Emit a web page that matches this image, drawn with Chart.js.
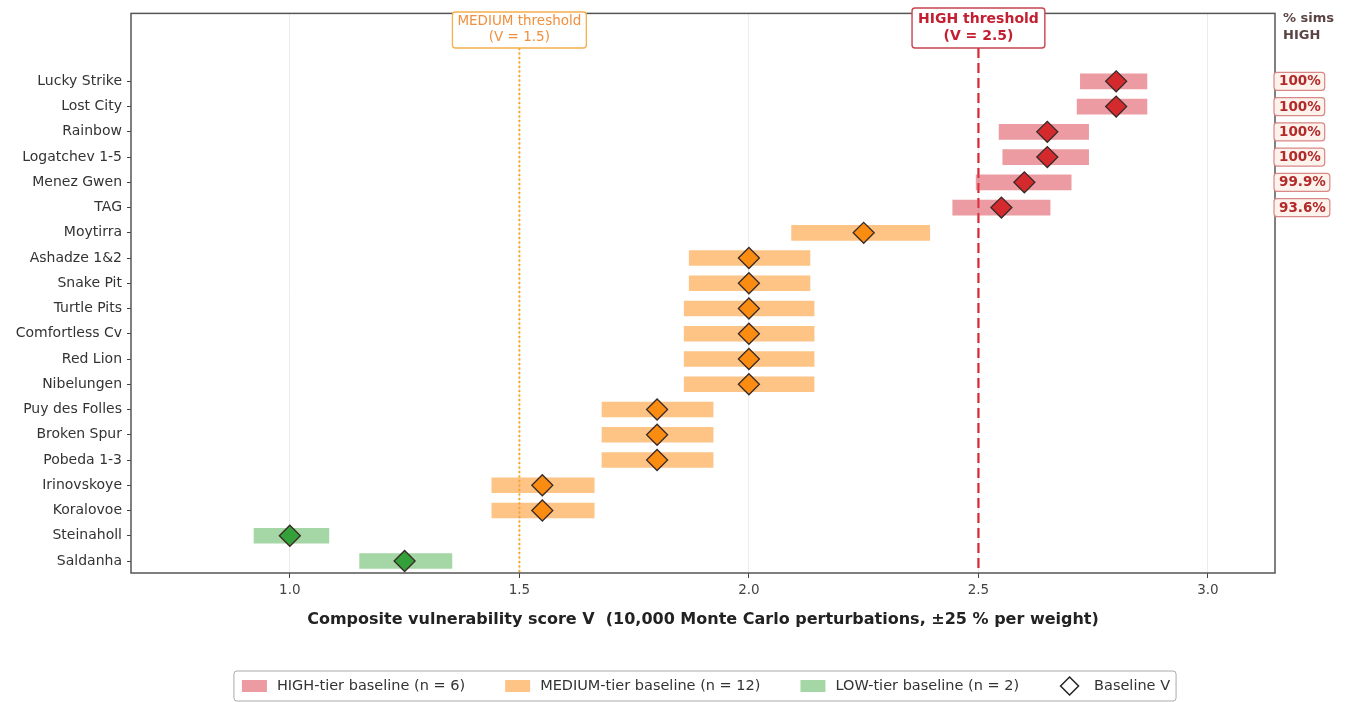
<!DOCTYPE html>
<html><head><meta charset="utf-8">
<script src="https://cdn.jsdelivr.net/npm/chart.js@4"></script>
<style>html,body{margin:0;padding:0;background:#fff}#wrap{width:1351px;height:702px}</style>
</head><body><div id="wrap"><canvas id="c" width="1351" height="702"></canvas></div>
<script>
const sites = ['Lucky Strike','Lost City','Rainbow','Logatchev 1-5','Menez Gwen','TAG','Moytirra','Ashadze 1&2','Snake Pit','Turtle Pits','Comfortless Cv','Red Lion','Nibelungen','Puy des Folles','Broken Spur','Pobeda 1-3','Irinovskoye','Koralovoe','Steinaholl','Saldanha'];
const tiers = ['HIGH','HIGH','HIGH','HIGH','HIGH','HIGH','MEDIUM','MEDIUM','MEDIUM','MEDIUM','MEDIUM','MEDIUM','MEDIUM','MEDIUM','MEDIUM','MEDIUM','MEDIUM','MEDIUM','LOW','LOW'];
const baselineV = [2.80,2.80,2.65,2.65,2.60,2.55,2.25,2.00,2.00,2.00,2.00,2.00,2.00,1.80,1.80,1.80,1.55,1.55,1.00,1.25];
const rangeLow  = [2.722,2.715,2.545,2.553,2.495,2.444,2.093,1.870,1.870,1.859,1.859,1.859,1.859,1.680,1.680,1.680,1.440,1.440,0.922,1.152];
const rangeHigh = [2.867,2.867,2.740,2.740,2.702,2.656,2.394,2.133,2.133,2.142,2.142,2.142,2.142,1.922,1.922,1.922,1.663,1.663,1.085,1.353];
const pctHigh = ['100%','100%','100%','100%','99.9%','93.6%'];
const xTicks = [1.0,1.5,2.0,2.5,3.0];
const mediumThreshold = 1.5;
const highThreshold = 2.5;
const tierNames = ['HIGH','MEDIUM','LOW'];
const legendLabels = ['HIGH-tier baseline (n = 6)','MEDIUM-tier baseline (n = 12)','LOW-tier baseline (n = 2)','Baseline V'];

const barColors = {HIGH:'rgba(218,72,84,0.55)', MEDIUM:'rgba(251,160,60,0.62)', LOW:'rgba(100,185,100,0.58)'};
const dotColors = {HIGH:'#d42a2e', MEDIUM:'#fb8c12', LOW:'#34a03a'};
const FONT = "'DejaVu Sans', sans-serif";

const barDatasets = tierNames.map(t => ({
  type:'bar', indexAxis:'y', label:t, order:2, grouped:false, barThickness:15,
  backgroundColor: barColors[t], borderWidth:0,
  data: sites.map((s,i)=>({y:i, x:[rangeLow[i], rangeHigh[i]]})).filter((d,i)=>tiers[i]===t)
}));
const diamondDataset = {
  type:'scatter', label:'Baseline V', order:1, pointStyle:'rectRot', pointRadius:10.5, pointHoverRadius:10.5,
  pointBackgroundColor: tiers.map(t=>dotColors[t]), pointBorderColor:'#3a2a2a', pointBorderWidth:1.3,
  data: sites.map((s,i)=>({x:baselineV[i], y:i}))
};

function rrect(ctx,x,y,w,h,r){ctx.beginPath();ctx.moveTo(x+r,y);ctx.lineTo(x+w-r,y);ctx.quadraticCurveTo(x+w,y,x+w,y+r);ctx.lineTo(x+w,y+h-r);ctx.quadraticCurveTo(x+w,y+h,x+w-r,y+h);ctx.lineTo(x+r,y+h);ctx.quadraticCurveTo(x,y+h,x,y+h-r);ctx.lineTo(x,y+r);ctx.quadraticCurveTo(x,y,x+r,y);ctx.closePath();}

const decor = {
  id:'decor',
  beforeDatasetsDraw(chart){
    const {ctx, chartArea:a, scales:{x}} = chart;
    ctx.save();
    const xm = x.getPixelForValue(mediumThreshold), xh = x.getPixelForValue(highThreshold);
    ctx.strokeStyle='#f5a623'; ctx.lineWidth=2; ctx.setLineDash([2,2.5]);
    ctx.beginPath(); ctx.moveTo(xm,48); ctx.lineTo(xm,a.bottom); ctx.stroke();
    ctx.strokeStyle='#d62733'; ctx.lineWidth=2.2; ctx.setLineDash([10,5]);
    ctx.beginPath(); ctx.moveTo(xh,48); ctx.lineTo(xh,a.bottom); ctx.stroke();
    ctx.restore();
  },
  afterDraw(chart){
    const {ctx, chartArea:a, scales:{x,y}} = chart;
    ctx.save();
    ctx.strokeStyle='#555'; ctx.lineWidth=1.5; ctx.setLineDash([]);
    ctx.strokeRect(a.left, a.top, a.right-a.left, a.bottom-a.top);
    const xm = x.getPixelForValue(mediumThreshold), xh = x.getPixelForValue(highThreshold);
    ctx.textAlign='center'; ctx.textBaseline='middle';
    ctx.font = "13.5px "+FONT;
    let w = ctx.measureText('MEDIUM threshold').width+10;
    rrect(ctx, xm-w/2, 12, w, 36, 3); ctx.fillStyle='#fff'; ctx.fill();
    ctx.strokeStyle='#f5b04e'; ctx.lineWidth=1.3; ctx.stroke();
    ctx.fillStyle='#f0903e';
    ctx.fillText('MEDIUM threshold', xm, 21.5); ctx.fillText('(V = '+mediumThreshold.toFixed(1)+')', xm, 37);
    ctx.font = "bold 14px "+FONT;
    w = ctx.measureText('HIGH threshold').width+12;
    rrect(ctx, xh-w/2, 8, w, 40, 3); ctx.fillStyle='#fff'; ctx.fill();
    ctx.strokeStyle='#c8434f'; ctx.lineWidth=1.4; ctx.stroke();
    ctx.fillStyle='#c41f30';
    ctx.fillText('HIGH threshold', xh, 19); ctx.fillText('(V = '+highThreshold.toFixed(1)+')', xh, 36);
    ctx.textAlign='left'; ctx.font="bold 13px "+FONT; ctx.fillStyle='#5b4444';
    ctx.fillText('% sims', a.right+8, 19); ctx.fillText('HIGH', a.right+8, 36);
    ctx.font="bold 13.5px "+FONT;
    pctHigh.forEach((p,i)=>{
      const py = y.getPixelForValue(i);
      const tw = ctx.measureText(p).width;
      rrect(ctx, a.right-1, py-9, tw+9, 18, 3);
      ctx.fillStyle='#fdf3ec'; ctx.fill();
      ctx.strokeStyle='#d98888'; ctx.lineWidth=1.2; ctx.stroke();
      ctx.fillStyle='#b32a2a'; ctx.fillText(p, a.right+4, py+0.5);
    });
    ctx.font = "14.5px "+FONT;
    const sw=25, gapT=10, gapI=40;
    const widths = legendLabels.map(l=>ctx.measureText(l).width);
    let total = widths.reduce((s,v)=>s+v,0) + 4*(sw+gapT) + 3*gapI;
    let lx = (a.left+a.right)/2 - total/2 + 3;
    const ly = 686;
    rrect(ctx, lx-8, 671, total+14, 30, 3); ctx.fillStyle='#fff'; ctx.fill();
    ctx.strokeStyle='#aaa'; ctx.lineWidth=1; ctx.stroke();
    legendLabels.forEach((l,i)=>{
      if(i<3){ ctx.fillStyle=barColors[tierNames[i]]; ctx.fillRect(lx, ly-6, sw, 12); }
      else { const cx=lx+sw/2-2; ctx.beginPath(); ctx.moveTo(cx-9, ly); ctx.lineTo(cx, ly-9); ctx.lineTo(cx+9, ly); ctx.lineTo(cx, ly+9); ctx.closePath();
        ctx.fillStyle='#fff'; ctx.fill(); ctx.strokeStyle='#222'; ctx.lineWidth=1.5; ctx.stroke(); }
      ctx.fillStyle='#333'; ctx.fillText(l, lx+sw+gapT, ly+0.5);
      lx += sw+gapT+widths[i]+gapI;
    });
    ctx.restore();
  }
};

new Chart(document.getElementById('c'), {
  type:'bar',
  data:{ datasets:[...barDatasets, diamondDataset] },
  options:{
    responsive:false, animation:false, devicePixelRatio:1,
    layout:{padding:{left:0, right:76, top:13, bottom:73}},
    plugins:{legend:{display:false}, tooltip:{enabled:false}},
    scales:{
      x:{type:'linear', min:0.654, max:3.146, offset:false, beginAtZero:false,
        afterBuildTicks: s => { s.ticks = xTicks.map(v=>({value:v})); },
        afterFit: s => { s.height = 56; },
        grid:{offset:false, color:'#ececec', lineWidth:1, tickLength:5, tickColor:'#444'},
        border:{display:false},
        ticks:{font:{family:FONT, size:13.5}, color:'#444', padding:4, callback:v=>v.toFixed(1)},
        title:{display:true, text:'Composite vulnerability score V  (10,000 Monte Carlo perturbations, ±25 % per weight)',
          font:{family:FONT, size:16, weight:'bold'}, color:'#222', padding:0}
      },
      y:{type:'linear', reverse:true, min:-2.69, max:19.475, offset:false, beginAtZero:false,
        afterBuildTicks: s => { s.ticks = sites.map((n,i)=>({value:i})); },
        afterFit: s => { s.width = 131; },
        grid:{offset:false, drawOnChartArea:false, tickLength:4, tickColor:'#444'},
        border:{display:false},
        ticks:{font:{family:FONT, size:14}, color:'#333', padding:5, autoSkip:false, callback:v=>sites[v]}
      }
    }
  },
  plugins:[decor]
});
</script></body></html>
